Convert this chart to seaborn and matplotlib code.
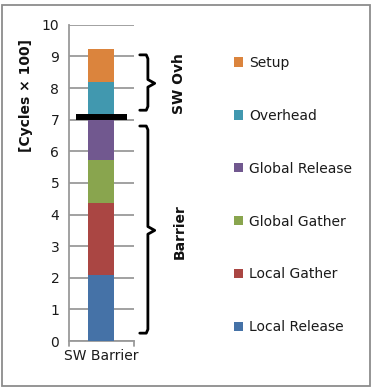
import numpy as np
import pandas as pd
import seaborn as sns
import matplotlib.pyplot as plt
from matplotlib.patches import Rectangle, Patch

# data, bottom segment first
category = ["SW Barrier"]
segments = ["Local Release", "Local Gather", "Global Gather", "Global Release", "Overhead", "Setup"]
values = [2.1, 2.28, 1.35, 1.37, 1.1, 1.04]
colors = ["#4572A7", "#AA4643", "#89A54E", "#71588F", "#4198AF", "#DB843D"]
yticks = list(range(0, 11))
brace_labels = ["SW Ovh", "Barrier"]

if __name__ == '__main__':
    sns.set_style("white")
    plt.rcParams['font.family'] = ['DejaVu Sans']
    plt.rcParams['font.size'] = 10

    fig = plt.figure(figsize=(3.71, 3.88), dpi=100)
    ax = fig.add_axes([0.186, 0.121, 0.175, 0.815])

    # stacked bar: draw cumulative heights from the top down
    cum = np.cumsum(values)
    for i in range(len(segments) - 1, -1, -1):
        df = pd.DataFrame({"cat": category, "val": [cum[i]]})
        sns.barplot(data=df, x="cat", y="val", color=colors[i], width=0.4,
                    saturation=1, ax=ax, zorder=3, edgecolor="none", linewidth=0)

    ax.set_xlim(-0.5, 0.5)
    ax.set_ylim(0, 10)
    ax.set_yticks(yticks)
    ax.yaxis.grid(True, color="#9a9a9a", lw=1.3, zorder=0)
    ax.set_axisbelow(True)
    for s in ["top", "right"]:
        ax.spines[s].set_visible(False)
    for s in ["left", "bottom"]:
        ax.spines[s].set_color("#9a9a9a")
        ax.spines[s].set_linewidth(1.3)
    ax.tick_params(axis="y", length=4, color="#9a9a9a", width=1.3, pad=3, labelsize=10,
                   labelcolor="#1a1a1a")
    ax.tick_params(axis="x", length=0, pad=6, labelsize=10, labelcolor="#1a1a1a")
    ax.set_xlabel("")
    ax.set_ylabel("")
    # x-axis end ticks
    for xe in [-0.5, 0.5]:
        ax.plot([xe, xe], [0, -0.15], color="#9a9a9a", lw=1.3, clip_on=False)

    fig.text(0.07, 0.755, "[Cycles \u00d7 100]", rotation=90, fontweight="bold",
             fontsize=10, ha="center", va="center", color="#111111")

    # black separator line
    ax.plot([-0.39, 0.39], [7.08, 7.08], color="black", lw=4.3, solid_capstyle="butt",
            clip_on=False, zorder=5)

    # braces
    def brace(y0, y1, ym):
        xs = [0.59, 0.69, 0.715, 0.715, 0.82, 0.715, 0.715, 0.69, 0.59]
        d = 0.12
        ys = [y1, y1, y1 - d, ym + d, ym, ym - d, y0 + d, y0, y0]
        ax.plot(xs, ys, color="black", lw=2, clip_on=False, solid_joinstyle="round")

    brace(7.3, 9.05, 8.15)
    brace(0.25, 6.8, 3.5)
    ax.text(1.2, 8.15, brace_labels[0], rotation=90, fontweight="bold", fontsize=10,
            ha="center", va="center", color="#111111")
    ax.text(1.2, 3.45, brace_labels[1], rotation=90, fontweight="bold", fontsize=10,
            ha="center", va="center", color="#111111")

    # legend, top entry first
    handles = [Patch(facecolor=colors[i], edgecolor="none", label=segments[i])
               for i in range(len(segments) - 1, -1, -1)]
    leg = fig.legend(handles=handles, loc="upper left", bbox_to_anchor=(0.63, 0.856),
                     frameon=False, fontsize=10, labelspacing=2.8, handlelength=0.65,
                     handleheight=0.65, handletextpad=0.45, borderpad=0, borderaxespad=0)
    for t in leg.get_texts():
        t.set_color("#1a1a1a")

    # outer border
    fig.patches.append(Rectangle((0.006, 0.005), 0.99, 0.982, transform=fig.transFigure,
                                 fill=False, edgecolor="#8c8c8c", lw=1.3))

    plt.savefig("out.png", dpi=100)
